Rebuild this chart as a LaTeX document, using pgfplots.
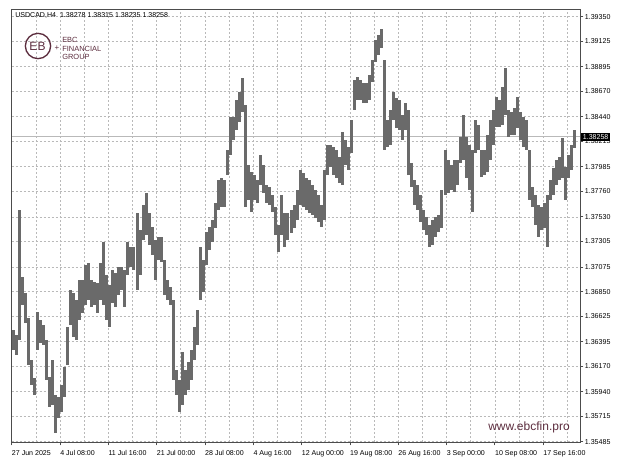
\documentclass[border=0pt]{standalone}
\usepackage{pgfplots}
\pgfplotsset{compat=1.18}
\usepackage{pgfplotstable}
\usepackage{fontspec}
\setmainfont{Liberation Sans}
\definecolor{barcol}{RGB}{106,106,106}
\definecolor{ebc}{RGB}{92,45,62}
\definecolor{gridcol}{RGB}{185,185,185}

\pgfplotstableread{
i lo hi
1 1.36319 1.36501
3 1.36274 1.36455
5 1.36410 1.37592
7 1.36728 1.36983
9 1.36565 1.36837
11 1.36183 1.36610
13 1.36001 1.36228
15 1.35910 1.36065
17 1.36319 1.36665
19 1.36383 1.36592
21 1.36365 1.36546
23 1.36046 1.36410
25 1.35801 1.36074
27 1.35819 1.36228
29 1.35564 1.35910
31 1.35701 1.35892
33 1.35755 1.36001
35 1.35892 1.36165
37 1.36183 1.36528
39 1.36546 1.36865
41 1.36437 1.36837
43 1.36410 1.36774
45 1.36592 1.36956
47 1.36656 1.36956
49 1.36728 1.37092
51 1.36774 1.37110
53 1.36710 1.36956
55 1.36728 1.36938
57 1.36656 1.36928
59 1.36774 1.37110
61 1.36728 1.37301
63 1.36592 1.37001
65 1.36528 1.36910
67 1.36747 1.37047
69 1.36710 1.37019
71 1.36819 1.37074
73 1.36865 1.37074
75 1.36710 1.37047
77 1.37001 1.37301
79 1.37074 1.37256
81 1.37047 1.37256
83 1.36865 1.37565
85 1.37001 1.37410
87 1.37319 1.37638
89 1.37365 1.37747
91 1.37274 1.37565
93 1.37183 1.37438
95 1.36956 1.37319
97 1.37137 1.37347
99 1.37119 1.37347
101 1.36819 1.37137
103 1.36774 1.36956
105 1.36728 1.36892
107 1.36046 1.36774
109 1.35910 1.36137
111 1.35755 1.36046
113 1.35819 1.36301
115 1.35910 1.36137
117 1.35955 1.36210
119 1.36046 1.36319
121 1.36228 1.36528
123 1.36365 1.36683
125 1.36774 1.37256
127 1.36847 1.37137
129 1.37092 1.37392
131 1.37228 1.37438
133 1.37301 1.37501
135 1.37429 1.37656
137 1.37592 1.37865
139 1.37620 1.37883
141 1.37620 1.37865
143 1.37910 1.38138
145 1.38092 1.38438
147 1.38229 1.38438
149 1.38320 1.38593
151 1.38393 1.38665
153 1.38483 1.38793
155 1.37620 1.38547
157 1.37683 1.38001
159 1.37574 1.37938
161 1.37683 1.37910
163 1.37656 1.37865
165 1.37819 1.38092
167 1.37747 1.38001
169 1.37656 1.37819
171 1.37638 1.37801
173 1.37574 1.37729
175 1.37365 1.37620
177 1.37210 1.37456
179 1.37365 1.37729
181 1.37256 1.37565
183 1.37319 1.37565
185 1.37383 1.37592
187 1.37429 1.37638
189 1.37501 1.37774
191 1.37638 1.37956
193 1.37620 1.37929
195 1.37592 1.37883
197 1.37565 1.37865
199 1.37547 1.37819
201 1.37519 1.37774
203 1.37483 1.37729
205 1.37438 1.37638
207 1.37501 1.37956
209 1.37910 1.38183
211 1.37983 1.38183
213 1.37910 1.38165
215 1.37883 1.38138
217 1.37838 1.38074
219 1.37819 1.38302
221 1.38001 1.38229
223 1.37956 1.38165
225 1.38111 1.38411
227 1.38502 1.38774
229 1.38593 1.38802
231 1.38593 1.38774
233 1.38565 1.38747
235 1.38565 1.38747
237 1.38593 1.38820
239 1.38756 1.38956
241 1.38938 1.39138
243 1.39002 1.39184
245 1.39066 1.39238
247 1.38138 1.38956
249 1.38165 1.38411
251 1.38183 1.38502
253 1.38411 1.38665
255 1.38338 1.38611
257 1.38320 1.38593
259 1.38229 1.38456
261 1.38320 1.38565
263 1.37910 1.38502
265 1.37801 1.38020
267 1.37638 1.37865
269 1.37592 1.37819
271 1.37483 1.37729
273 1.37410 1.37592
275 1.37365 1.37529
277 1.37256 1.37456
279 1.37274 1.37501
281 1.37347 1.37529
283 1.37392 1.37547
285 1.37429 1.37774
287 1.37729 1.38138
289 1.37747 1.38047
291 1.37774 1.38001
293 1.37756 1.38047
295 1.37819 1.38047
297 1.38020 1.38256
299 1.38047 1.38456
301 1.37883 1.38256
303 1.37774 1.38183
305 1.37574 1.38138
307 1.38111 1.38411
309 1.38138 1.38365
311 1.37892 1.38138
313 1.37910 1.38138
315 1.37938 1.38274
317 1.38047 1.38411
319 1.38183 1.38502
321 1.38347 1.38620
323 1.38347 1.38593
325 1.38365 1.38711
327 1.38456 1.38884
329 1.38256 1.38502
331 1.38274 1.38483
333 1.38274 1.38520
335 1.38338 1.38620
337 1.38229 1.38483
339 1.38165 1.38438
341 1.38138 1.38411
343 1.37683 1.38138
345 1.37620 1.37801
347 1.37456 1.37729
349 1.37347 1.37638
351 1.37410 1.37620
353 1.37429 1.37656
355 1.37256 1.37729
357 1.37683 1.37865
359 1.37729 1.37974
361 1.37819 1.38047
363 1.37865 1.38074
365 1.37883 1.38247
367 1.37683 1.37983
369 1.37883 1.38092
371 1.37956 1.38183
373 1.38156 1.38320
}\bars

\begin{document}
\begin{tikzpicture}
\path[use as bounding box] (0,0) rectangle (468.75pt,348.75pt);
\begin{axis}[
  at={(8.775pt,17.25pt)}, anchor=south west,
  scale only axis, width=426.2pt, height=324.75pt,
  xmin=0, xmax=376.4, ymin=1.35482, ymax=1.39420,
  axis line style={black!70, line width=0.6pt},
  xtick={0,32,64,96,128,160,192,224,256,288,320,352},
  xticklabels={27 Jun 2025, 4 Jul 08:00, 11 Jul 16:00, 21 Jul 00:00, 28 Jul 08:00, 4 Aug 16:00, 12 Aug 00:00, 19 Aug 08:00, 26 Aug 16:00, 3 Sep 00:00, 10 Sep 08:00, 17 Sep 16:00},
  minor xtick={16,48,80,112,144,176,208,240,272,304,336,368},
  ytick={1.35485,1.35715,1.35940,1.36170,1.36395,1.36625,1.36850,1.37075,1.37305,1.37530,1.37760,1.37985,1.38215,1.38440,1.38670,1.38895,1.39125,1.39350},
  yticklabels={1.35485,1.35715,1.35940,1.36170,1.36395,1.36625,1.36850,1.37075,1.37305,1.37530,1.37760,1.37985,1.38215,1.38440,1.38670,1.38895,1.39125,1.39350},
  xtick pos=bottom, ytick pos=right, yticklabel pos=right,
  tick align=outside, major tick length=2.5pt, minor tick length=0pt,
  tick style={black!70, line width=0.5pt},
  xmajorgrids, xminorgrids, ymajorgrids,
  major grid style={gridcol, dash pattern=on 1.5pt off 1.5pt, line width=0.45pt},
  minor grid style={gridcol, dash pattern=on 1.5pt off 1.5pt, line width=0.45pt},
  x tick label style={font=\fontsize{5.3}{6}\selectfont, anchor=north west, inner sep=0pt, yshift=-3.5pt},
  y tick label style={font=\fontsize{5.3}{6}\selectfont, anchor=west, inner sep=0pt, xshift=1pt},
]
\addplot[gray!55, line width=0.5pt, forget plot] coordinates {(0,1.38258) (376.4,1.38258)};
\addplot[draw=none, mark=none, forget plot,
  error bars/.cd, y dir=plus, y explicit, error mark=none,
  error bar style={draw=barcol, solid, line width=2.25pt}]
  table[x=i, y=lo, y error expr=\thisrow{hi}-\thisrow{lo}] {\bars};
\end{axis}
\begin{scope}[x=0.75pt, y=-0.75pt, shift={(0pt,348.75pt)}]
\node[anchor=west, font=\fontsize{5.3}{6}\selectfont, inner sep=0pt] at (15,15) {USDCAD,H4\ \ 1.38278 1.38315 1.38235 1.38258};
\draw[ebc, line width=1pt] (38,46) circle[radius=9.5pt];
\node[ebc, font=\fontsize{9}{9}\selectfont, inner sep=0pt] at (37.5,46) {EB};
\node[ebc, font=\fontsize{6}{6}\selectfont, inner sep=0pt] at (57,48.5) {+};
\node[ebc, anchor=west, font=\fontsize{5.6}{6.2}\selectfont, align=left, inner sep=0pt] at (62,48.5) {EBC\\FINANCIAL\\GROUP};
\node[ebc, font=\fontsize{9}{10}\selectfont, inner sep=0pt] at (529,427) {www.ebcfin.pro};
\node[fill=black, text=white, font=\fontsize{5.3}{6}\selectfont, inner xsep=1.2pt, inner ysep=1.2pt, anchor=west] at (581,137) {1.38258};
\end{scope}
\end{tikzpicture}
\end{document}
